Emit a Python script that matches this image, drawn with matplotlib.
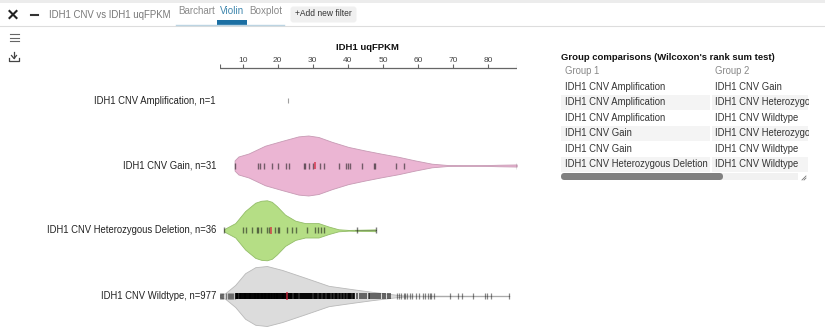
import matplotlib
matplotlib.use("Agg")
import matplotlib.pyplot as plt
from matplotlib.patches import Rectangle, FancyBboxPatch

plt.rcParams['font.family'] = ['Liberation Sans', 'DejaVu Sans']

# groups, top to bottom
grupos = ["IDH1 CNV Amplification, n=1", "IDH1 CNV Gain, n=31",
          "IDH1 CNV Heterozygous Deletion, n=36", "IDH1 CNV Wildtype, n=977"]
tick_labels = [10, 20, 30, 40, 50, 60, 70, 80]

# violin outlines (uqFPKM, relative density)
gain_x = [7.7, 8.8, 11.7, 16.4, 21.2, 25.9, 28.7, 31.6, 35.4, 40.1, 44.9, 49.7, 54.4, 59.1, 63.9, 68.6, 73.4, 78.1, 82.9, 88.1]
gain_d = [.17, .30, .40, .66, .82, .97, 1.0, .95, .79, .62, .50, .39, .29, .17, .06, .015, .008, .01, .025, .035]
het_x = [4.7, 7.9, 10.7, 13.6, 15.3, 16.9, 18.3, 19.7, 22.1, 25.0, 27.8, 31.6, 34.5, 37.3, 40.2, 47.8]
het_d = [.04, .24, .64, .92, .985, 1.0, .95, .81, .52, .32, .24, .24, .125, .034, .012, .03]
wild_x = [3.4, 5.0, 7.9, 10.7, 13.6, 16.9, 21.2, 27.8, 34.5, 41.1, 46.8, 52.5, 55.4, 59.1, 72.0, 86.0]
wild_d = [.04, .09, .37, .76, .96, 1.0, .87, .61, .34, .23, .14, .06, .02, .011, .008, .006]

# observed values, drawn as ticks
amp_vals = [23.0]
gain_vals = [7.9, 14.3, 15.0, 16.2, 18.5, 20.2, 22.3, 23.1, 27.4, 27.8, 29.0, 30.0, 32.1, 33.3,
             37.5, 39.4, 40.0, 40.5, 44.0, 47.4, 47.8, 53.6, 56.1, 88.1]
het_vals = [4.7, 10.1, 10.9, 12.6, 14.0, 14.5, 15.1, 16.9, 17.6, 19.1, 20.0, 20.4, 22.6, 24.0, 25.2,
            28.4, 30.7, 31.6, 32.4, 33.3, 42.5, 47.9]
wild_vals = [3.5, 3.8, 4.1, 4.4, 5.3, 5.7, 6.0, 6.4, 6.7, 7.0, 7.3, 7.7, 8.0, 8.3, 8.5, 8.8, 9.1, 9.3,
             9.6, 9.8, 10.1, 10.3, 10.6, 10.8, 11.0, 11.3, 11.5, 11.7, 12.0, 12.2, 12.4, 12.7, 12.9,
             13.1, 13.4, 13.6, 13.8, 14.0, 14.3, 14.5, 14.7, 14.9, 15.2, 15.4, 15.6, 15.8, 16.1, 16.3,
             16.5, 16.7, 16.9, 17.2, 17.4, 17.6, 17.8, 18.1, 18.3, 18.5, 18.8, 19.0, 19.2, 19.5, 19.7,
             19.9, 20.2, 20.4, 20.6, 20.9, 21.1, 21.4, 21.6, 21.9, 22.1, 22.4, 22.6, 22.9, 23.1, 23.4,
             23.7, 23.9, 24.2, 24.5, 24.8, 25.0, 25.3, 25.6, 25.9, 26.2, 26.5, 26.8, 27.1, 27.4, 27.7,
             28.0, 28.3, 28.6, 28.9, 29.2, 29.6, 29.9, 30.3, 30.6, 31.0, 31.3, 31.7, 32.0, 32.4, 32.8,
             33.1, 33.5, 33.9, 34.3, 34.7, 35.0, 35.4, 35.8, 36.2, 36.6, 37.0, 37.4, 37.8, 38.2, 38.7,
             39.1, 39.5, 39.9, 40.3, 40.6, 41.0, 41.4, 41.8, 42.7, 43.4, 44.0, 44.6, 45.2, 45.9, 46.4,
             47.0, 47.5, 48.1, 48.7, 49.2, 49.9, 50.5, 51.3, 52.1, 54.0, 54.5, 55.2, 55.9, 56.4, 56.9,
             57.8, 58.4, 59.4, 60.3, 61.3, 62.0, 62.9, 63.3, 63.8, 64.4, 69.0, 71.4, 72.5, 75.7, 79.2,
             79.5, 80.7, 85.9]
medianas = [23.0, 30.7, 18.1, 22.6]

# table
titulo_tabela = "Group comparisons (Wilcoxon's rank sum test)"
cabecalho = ["Group 1", "Group 2"]
coluna1 = ["IDH1 CNV Amplification", "IDH1 CNV Amplification", "IDH1 CNV Amplification",
           "IDH1 CNV Gain", "IDH1 CNV Gain", "IDH1 CNV Heterozygous Deletion"]
coluna2 = ["IDH1 CNV Gain", "IDH1 CNV Heterozygous Deletion", "IDH1 CNV Wildtype",
           "IDH1 CNV Heterozygous Deletion", "IDH1 CNV Wildtype", "IDH1 CNV Wildtype"]

W, H = 825, 332
fig = plt.figure(figsize=(W / 100, H / 100), dpi=100)

# pixel axes for everything that is page layout
pg = fig.add_axes([0, 0, 1, 1])
pg.set_xlim(0, W)
pg.set_ylim(H, 0)
pg.axis("off")

# top bar
pg.add_patch(Rectangle((0, 0), W, 3, color="#ececec", lw=0))
pg.plot([0, W], [25.5, 25.5], color="#dddddd", lw=0.8)
pg.plot([9.5, 16.5], [11, 18], color="#222222", lw=1.5)
pg.plot([9.5, 16.5], [18, 11], color="#222222", lw=1.5)
pg.plot([31, 38], [15, 15], color="#333333", lw=1.5)
pg.text(49, 14.5, "IDH1 CNV vs IDH1 uqFPKM", color="#777777", fontsize=6.9, va="center")
pg.text(178, 11.5, "Barchart", color="#8a8a8a", fontsize=7.1, va="center")
pg.text(220, 11.5, "Violin", color="#3f86ad", fontsize=7.1, va="center")
pg.text(249, 11.5, "Boxplot", color="#8a8a8a", fontsize=7.1, va="center")
pg.plot([176, 284], [24.5, 24.5], color="#bcd4e2", lw=1)
pg.add_patch(Rectangle((217, 20), 30, 5, color="#1b6fa3", lw=0))
pg.add_patch(FancyBboxPatch((292, 8), 63, 13, boxstyle="round,pad=1.5,rounding_size=3", color="#f0f0f0", lw=0))
pg.text(323.5, 14, "+Add new filter", color="#333333", fontsize=6.15, ha="center", va="center")

# side icons
for y in [34, 37.5, 41]:
    pg.plot([10, 19], [y, y], color="#666666", lw=0.8)
pg.plot([14, 14], [52, 58], color="#444444", lw=0.9)
pg.plot([11.5, 14, 16.5], [55.5, 58.5, 55.5], color="#444444", lw=0.9)
pg.plot([9, 9, 19, 19], [58, 60.5, 60.5, 58], color="#444444", lw=0.9)

# chart, x in uqFPKM, y still in page pixels
ax = fig.add_axes([219.5 / W, 0, (516.7 - 219.5) / W, 1])
ax.set_xlim(3.4, 88.1)
ax.set_ylim(H, 0)
ax.axis("off")
ax.patch.set_alpha(0)

centros = [100.5, 165.5, 230.3, 296]
altura = 30
tick_h = [2.5, 3, 3, 3.3]

ax.fill_between(gain_x, [centros[1] - d * altura for d in gain_d], [centros[1] + d * altura for d in gain_d],
                facecolor="#ebb5d3", edgecolor="#c79ab4", lw=0.6)
ax.fill_between(het_x, [centros[2] - d * altura for d in het_d], [centros[2] + d * altura for d in het_d],
                facecolor="#b5de85", edgecolor="#93bd68", lw=0.6)
ax.fill_between(wild_x, [centros[3] - d * altura for d in wild_d], [centros[3] + d * altura for d in wild_d],
                facecolor="#dcdcdc", edgecolor="#b9b9b9", lw=0.6)

# whisker line through the tails
ax.plot([64, 86], [centros[3], centros[3]], color="#aaaaaa", lw=0.8)
ax.plot([42, 48], [centros[2], centros[2]], color="#7d9c5e", lw=0.7)

# thin semi transparent ticks, the dense part of the wildtype group merges to black
ax.vlines(amp_vals, centros[0] - tick_h[0], centros[0] + tick_h[0], color="#111111", lw=0.8, alpha=0.4)
ax.vlines(gain_vals, centros[1] - tick_h[1], centros[1] + tick_h[1], color="#111111", lw=1.0, alpha=0.55)
ax.vlines(het_vals, centros[2] - tick_h[2], centros[2] + tick_h[2], color="#111111", lw=1.0, alpha=0.55)
denso = [v for v in wild_vals if 8 <= v < 42]
medio = [v for v in wild_vals if 42 <= v < 53]
resto = [v for v in wild_vals if v < 8 or v >= 53]
ax.vlines(denso, centros[3] - tick_h[3], centros[3] + tick_h[3], color="#000000", lw=1.4, alpha=0.85)
ax.vlines(medio, centros[3] - tick_h[3], centros[3] + tick_h[3], color="#111111", lw=1.4, alpha=0.6)
ax.vlines(resto, centros[3] - tick_h[3], centros[3] + tick_h[3], color="#111111", lw=0.9, alpha=0.5)

for i in range(len(grupos)):
    c = centros[i]
    if i > 0:
        ax.vlines(medianas[i], c - tick_h[i] - 0.8, c + tick_h[i] + 0.8, color="#d7263d", lw=1.2, alpha=0.8)
    pg.text(216, c, grupos[i], fontsize=6.85, color="#222222", ha="right", va="center")

# top axis
ax.plot([3.4, 88.1], [68, 68], color="#666666", lw=0.9)
ax.vlines([3.4, 88.1], 64, 68, color="#666666", lw=0.8)
ax.vlines(tick_labels, 64, 68, color="#666666", lw=0.8)
for t in tick_labels:
    ax.text(t, 60, str(t), fontsize=6.0, color="#444444", ha="center", va="center")
ax.text(45.7, 47, "IDH1 uqFPKM", fontsize=6.8, fontweight="bold", color="#111111", ha="center", va="center")

# comparison table
pg.text(561, 58, titulo_tabela, fontsize=6.8, fontweight="bold", color="#111111", va="center")
pg.text(565, 71.5, cabecalho[0], fontsize=6.85, color="#888888", va="center")
pg.text(715, 71.5, cabecalho[1], fontsize=6.85, color="#888888", va="center")
corte = Rectangle((561, 60), 248, 120, transform=pg.transData)
for i in range(len(coluna1)):
    y = 87 + i * 15.45
    if i % 2 == 1:
        pg.add_patch(Rectangle((561, y - 7.5), 149, 15, color="#f4f4f4", lw=0))
        pg.add_patch(Rectangle((712, y - 7.5), 96, 15, color="#f4f4f4", lw=0))
    pg.text(565, y, coluna1[i], fontsize=6.85, color="#333333", va="center")
    # second column is cut by the scroll box
    t2 = pg.text(715, y, coluna2[i], fontsize=6.85, color="#333333", va="center", clip_on=True)
    t2.set_clip_path(corte)

# scrollbar and resize handle
pg.add_patch(Rectangle((565, 173), 233, 7, color="#f1f1f1", lw=0))
pg.add_patch(FancyBboxPatch((561, 173), 162, 7, boxstyle="round,pad=0,rounding_size=3.5", color="#808080", lw=0))
pg.plot([802, 806], [180, 176], color="#777777", lw=0.6)
pg.plot([804, 806], [180, 178], color="#777777", lw=0.6)

fig.savefig("out.png", dpi=100)
